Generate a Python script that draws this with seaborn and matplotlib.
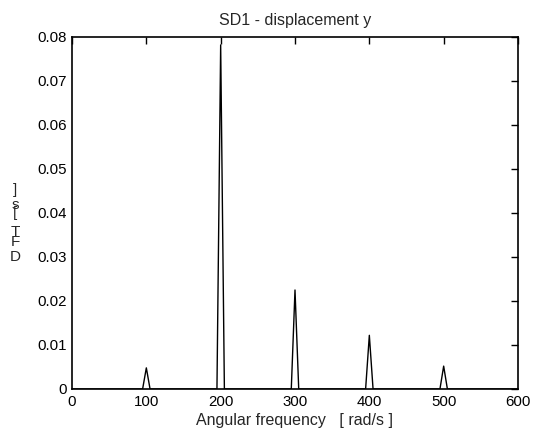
import numpy as np
import pandas as pd
import matplotlib
matplotlib.use("Agg")
import matplotlib.pyplot as plt
import seaborn as sns

# Data (DFT magnitude spectrum)
freq = [0, 95, 100, 105, 195, 200, 205, 295, 300, 305, 395, 400, 405, 495, 500, 505, 600]
amp = [0, 0, 0.0048, 0, 0, 0.0782, 0, 0, 0.0225, 0, 0, 0.0122, 0, 0, 0.0052, 0, 0]
xticks = [0, 100, 200, 300, 400, 500, 600]
yticks = [0, 0.01, 0.02, 0.03, 0.04, 0.05, 0.06, 0.07, 0.08]
ytick_labels = ["0", "0.01", "0.02", "0.03", "0.04", "0.05", "0.06", "0.07", "0.08"]
title = "SD1 - displacement y"
xlabel = "Angular frequency   [ rad/s ]"
ylabel_chars = ["D", "F", "T", "[", "s", "]"]

sns.set_style("white")
plt.rcParams["font.family"] = ["Liberation Sans", "DejaVu Sans"]

df = pd.DataFrame({"f": freq, "a": amp})

fig = plt.figure(figsize=(5.33, 4.28), dpi=100)
ax = fig.add_axes([72 / 533, 1 - 389 / 428, (518 - 72) / 533, (389 - 37) / 428])
sns.lineplot(data=df, x="f", y="a", ax=ax, color="black", linewidth=1.0, sort=False)

ax.set_xlim(0, 600)
ax.set_ylim(0, 0.08)
ax.set_xticks(xticks)
ax.set_xticklabels([str(t) for t in xticks])
ax.set_yticks(yticks)
ax.set_yticklabels(ytick_labels)
ax.tick_params(direction="in", length=5, width=1, top=True, right=True,
               labelsize=10.8, colors="black", pad=4)
for s in ax.spines.values():
    s.set_visible(True)
    s.set_color("black")
    s.set_linewidth(1.2)
ax.set_xlabel(xlabel, fontsize=11.5, labelpad=3)
ax.set_ylabel("")
ax.set_title(title, fontsize=11.5, pad=9)

# vertically stacked, upright y label characters
ypos = [257, 242, 232, 213, 205, 190]
for ch, yp in zip(ylabel_chars, ypos):
    fig.text(15 / 533, 1 - yp / 428, ch, ha="center", va="center", fontsize=11)

fig.savefig("out.png", dpi=100, facecolor="white")
